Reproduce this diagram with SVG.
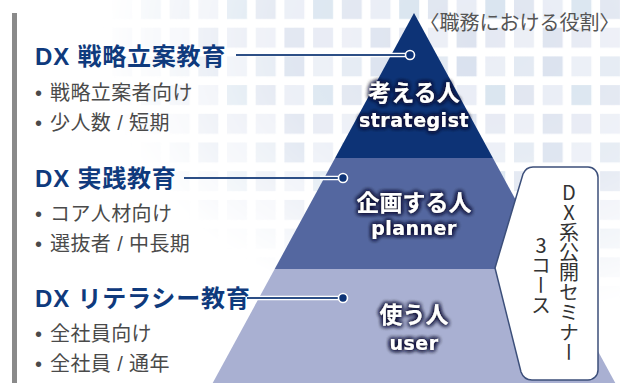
<svg xmlns="http://www.w3.org/2000/svg" width="620" height="383" viewBox="0 0 620 383">
<style>
.title{font-family:"Liberation Sans","Noto Sans CJK JP",sans-serif;font-weight:700;font-size:24px;fill:#0f3a7d;letter-spacing:0.8px}
.bul{font-family:"Liberation Sans","Noto Sans CJK JP",sans-serif;font-size:20px;fill:#4a4a4a;letter-spacing:0.4px}
.jp{font-family:"Noto Sans CJK JP",sans-serif;font-weight:700;font-size:23px;fill:#ffffff;text-anchor:middle}
.en{font-family:"DejaVu Sans",sans-serif;font-weight:700;font-size:19px;fill:#ffffff;text-anchor:middle;letter-spacing:0.5px}
.role{font-family:"Noto Sans CJK JP",sans-serif;font-size:20px;fill:#555555;text-anchor:end}
.vt{font-family:"Noto Sans CJK JP",sans-serif;font-size:20px;fill:#333333;writing-mode:vertical-rl;text-orientation:upright}
.cline{stroke:#2d4f86;stroke-width:1.8;fill:none}
.case{stroke:#ffffff;stroke-width:4.5;fill:none}
.dot{fill:#0d3376;stroke:#ffffff;stroke-width:1.6}
</style>
<defs>
<pattern id="tiles" patternUnits="userSpaceOnUse" x="169.6" y="-1" width="86.1" height="86.1">
<rect x="0" y="0" width="20" height="20" fill="#dfe5f0"/>
<rect x="28.7" y="0" width="20" height="20" fill="#e8ecf5"/>
<rect x="57.4" y="0" width="20" height="20" fill="#d8e4ef"/>
<rect x="0" y="28.7" width="20" height="20" fill="#ebeef6"/>
<rect x="28.7" y="28.7" width="20" height="20" fill="#dde3ef"/>
<rect x="57.4" y="28.7" width="20" height="20" fill="#e5e9f3"/>
<rect x="0" y="57.4" width="20" height="20" fill="#e2e9f2"/>
<rect x="28.7" y="57.4" width="20" height="20" fill="#d9e1ee"/>
<rect x="57.4" y="57.4" width="20" height="20" fill="#eaeef6"/>
</pattern>
<radialGradient id="fade" gradientUnits="userSpaceOnUse" cx="0" cy="0" r="1" gradientTransform="translate(480 40) scale(380 280)">
<stop offset="0" stop-color="#ffffff"/>
<stop offset="0.55" stop-color="#cccccc"/>
<stop offset="1" stop-color="#000000"/>
</radialGradient>
<mask id="tileMask" maskUnits="userSpaceOnUse" x="0" y="0" width="620" height="383">
<rect x="0" y="0" width="620" height="383" fill="url(#fade)"/>
</mask>
<filter id="glow" x="-20%" y="-40%" width="140%" height="180%">
<feGaussianBlur in="SourceAlpha" stdDeviation="2.5" result="b"/>
<feFlood flood-color="#1b1d3d" flood-opacity="1"/>
<feComposite in2="b" operator="in" result="s"/>
<feMerge><feMergeNode in="s"/><feMergeNode in="s"/><feMergeNode in="s"/><feMergeNode in="s"/><feMergeNode in="SourceGraphic"/></feMerge>
</filter>
</defs>
<rect x="0" y="0" width="620" height="383" fill="#ffffff"/>
<rect id="background-tiles" x="0" y="0" width="620" height="383" fill="url(#tiles)" mask="url(#tileMask)"/>
<rect id="side-bar" x="12" y="13" width="5" height="370" fill="#8a8a8a"/>
<text id="role-heading" class="role" x="619.5" y="30">〈職務における役割〉</text>

<g id="tier-strategist">
<polygon points="414,13 492.9,158 335.1,158" fill="#0d3376"/>
<g filter="url(#glow)">
<text class="jp" x="414" y="101">考える人</text>
<text class="en" x="414" y="127">strategist</text>
</g>
</g>
<g id="tier-planner">
<polygon points="335.1,158 492.9,158 553.3,269 274.7,269" fill="#5467a0"/>
<g filter="url(#glow)">
<text class="jp" x="414" y="211">企画する人</text>
<text class="en" x="414" y="235">planner</text>
</g>
</g>
<g id="tier-user">
<polygon points="274.7,269 553.3,269 615.3,383 212.7,383" fill="#a9b0d2"/>
<g filter="url(#glow)">
<text class="jp" x="414" y="323">使う人</text>
<text class="en" x="414" y="350">user</text>
</g>
</g>

<g id="course-strategy">
<text class="title" x="35" y="65">DX 戦略立案教育</text>
<text class="bul" y="100"><tspan x="35">•</tspan><tspan x="50">戦略立案者向け</tspan></text>
<text class="bul" y="130"><tspan x="35">•</tspan><tspan x="50">少人数 / 短期</tspan></text>
</g>
<g id="course-practice">
<text class="title" x="35" y="187">DX 実践教育</text>
<text class="bul" y="221"><tspan x="35">•</tspan><tspan x="50">コア人材向け</tspan></text>
<text class="bul" y="251"><tspan x="35">•</tspan><tspan x="50">選抜者 / 中長期</tspan></text>
</g>
<g id="course-literacy">
<text class="title" x="35" y="307">DX リテラシー教育</text>
<text class="bul" y="341"><tspan x="35">•</tspan><tspan x="50">全社員向け</tspan></text>
<text class="bul" y="371"><tspan x="35">•</tspan><tspan x="50">全社員 / 通年</tspan></text>
</g>

<g id="connectors">
<line class="case" x1="340" y1="55" x2="410" y2="55"/>
<line class="cline" x1="236" y1="55" x2="410" y2="55"/>
<circle class="dot" cx="410" cy="55" r="4.5"/>
<line class="case" x1="320" y1="178" x2="343" y2="178"/>
<line class="cline" x1="184" y1="178" x2="343" y2="178"/>
<circle class="dot" cx="343" cy="178" r="4.5"/>
<line class="case" x1="255" y1="298" x2="343" y2="298"/>
<line class="cline" x1="247" y1="298" x2="343" y2="298"/>
<circle class="dot" cx="343" cy="298" r="4.5"/>
</g>

<g id="seminar">
<path d="M533,167 H588 A10,10 0 0 1 598,177 V370 A10,10 0 0 1 588,380 H532 Q524,380 521,372 L495,268 L523,174 Q526,167 533,167 Z" fill="#ffffff" stroke="#3c4f7a" stroke-width="1.5"/>
<text class="vt" x="569" y="182">DX系公開セミナー</text>
<text class="vt" x="541" y="235">3コース</text>
</g>
</svg>
